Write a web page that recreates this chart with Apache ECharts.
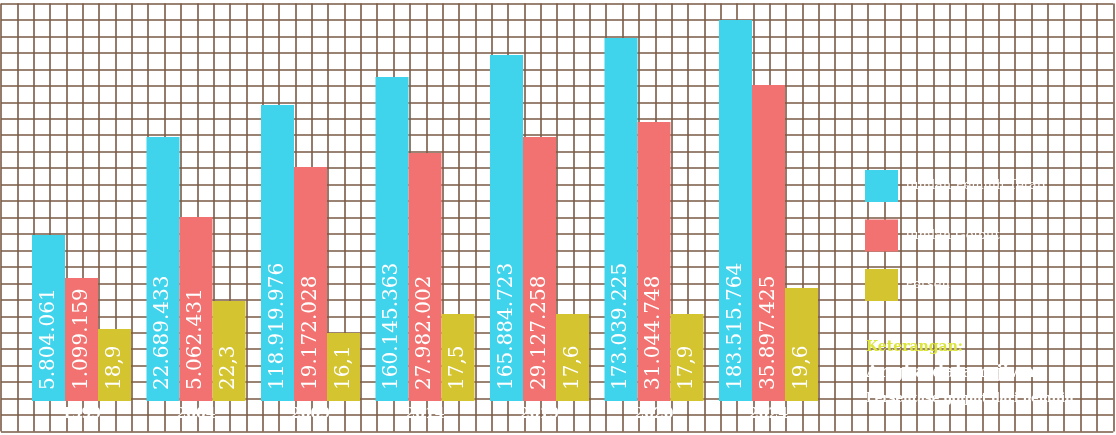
<!DOCTYPE html>
<html>
<head>
<meta charset="utf-8">
<script src="https://cdn.jsdelivr.net/npm/echarts@6/dist/echarts.min.js"></script>
<style>
html,body{margin:0;padding:0;background:#ffffff;}
#chart{width:1116px;height:435px;}
</style>
</head>
<body>
<div id="chart"></div>
<script>
// ---- data ----
var categories = ['1999', '2004', '2009', '2014', '2019', '2020', '2024'];
var seriesNames = ['Jumlah Pemilih Tetap', 'Jumlah Golput', 'Persen'];
// values printed on the bars
var cyanLabels = ['5.804.061', '22.689.433', '118.919.976', '160.145.363', '165.884.723', '173.039.225', '183.515.764'];
var redLabels = ['1.099.159', '5.062.431', '19.172.028', '27.982.002', '29.127.258', '31.044.748', '35.897.425'];
var yellowLabels = ['18,9', '22,3', '16,1', '17,5', '17,6', '17,9', '19,6'];
// bar lengths as drawn in the picture (the infographic is not to scale)
var cyanLength = [166, 264, 296, 324, 346, 363, 381];
var redLength = [123, 184, 234, 248, 264, 279, 316];
var yellowLength = [72, 100, 68, 87, 87, 87, 113];
var noteTitle = 'Keterangan:';
var noteLine1 = 'Angka dalam jiwa.';
var noteLine2 = 'Persentase golput dari pemilih';

var colors = ['#40d4ec', '#f17270', '#d4c42f'];
var labelsBySeries = [cyanLabels, redLabels, yellowLabels];

function barSeries(idx, data) {
  return {
    type: 'bar',
    name: seriesNames[idx],
    xAxisIndex: 1,
    yAxisIndex: 1,
    data: data,
    barWidth: 33,
    barGap: '0%',
    z: 5,
    itemStyle: { color: colors[idx] },
    label: {
      show: true,
      position: 'insideBottom',
      rotate: 90,
      align: 'left',
      verticalAlign: 'middle',
      distance: 11,
      color: '#ffffff',
      fontFamily: 'DejaVu Serif',
      fontSize: 20,
      formatter: function (p) { return labelsBySeries[idx][p.dataIndex]; }
    }
  };
}

var chart = echarts.init(document.getElementById('chart'), null, { renderer: 'canvas' });
chart.setOption({
  backgroundColor: '#ffffff',
  animation: false,
  grid: [
    { left: 1, top: 3.5, width: 1112.3, height: 428, containLabel: false },
    { left: 24.25, top: 0, width: 801.5, height: 401, containLabel: false }
  ],
  xAxis: [
    { gridIndex: 0, type: 'value', min: 0, max: 68, interval: 1,
      axisLine: { show: false }, axisTick: { show: false }, axisLabel: { show: false },
      splitLine: { show: true, lineStyle: { color: '#7a5a46', width: 1.6 } } },
    { gridIndex: 1, type: 'category', data: categories,
      axisLine: { show: false }, axisTick: { show: false },
      axisLabel: { color: '#ffffff', fontFamily: 'DejaVu Serif', fontWeight: 'bold', fontSize: 14, margin: 6 } }
  ],
  yAxis: [
    { gridIndex: 0, type: 'value', min: 0, max: 26, interval: 1,
      axisLine: { show: false }, axisTick: { show: false }, axisLabel: { show: false },
      splitLine: { show: true, lineStyle: { color: '#7a5a46', width: 1.6 } } },
    { gridIndex: 1, type: 'value', min: 0, max: 401,
      axisLine: { show: false }, axisTick: { show: false }, axisLabel: { show: false },
      splitLine: { show: false } }
  ],
  legend: {
    orient: 'vertical',
    left: 860,
    top: 165,
    itemWidth: 33,
    itemHeight: 32,
    itemGap: 17.5,
    icon: 'rect',
    textStyle: { color: '#ffffff', fontFamily: 'DejaVu Serif', fontSize: 13, padding: [0, 0, 0, 2] },
    data: seriesNames
  },
  graphic: [
    { type: 'text', left: 866, top: 340, z: 10,
      style: { text: noteTitle, fill: '#dbe53c', font: 'bold 14px "DejaVu Serif"' } },
    { type: 'text', left: 866, top: 364, z: 10,
      style: { text: noteLine1, fill: '#ffffff', font: 'bold 17px "DejaVu Serif"' } },
    { type: 'text', left: 866, top: 393, z: 10,
      style: { text: noteLine2, fill: '#ffffff', font: 'bold 12px "DejaVu Serif"' } }
  ],
  series: [
    barSeries(0, cyanLength),
    barSeries(1, redLength),
    barSeries(2, yellowLength)
  ]
});
</script>
</body>
</html>
